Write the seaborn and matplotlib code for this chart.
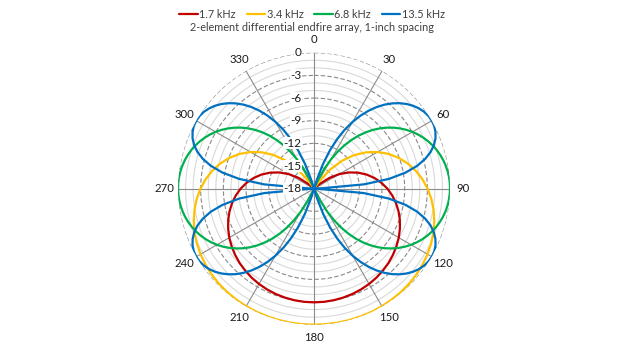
import numpy as np
import pandas as pd
import matplotlib
matplotlib.use("Agg")
import matplotlib.pyplot as plt
import seaborn as sns

# ---- data (dB; pattern is symmetric about 0-180) ----
angles_half = [a * 5.0 for a in range(37)]        # 0..180 step 5
angles_fine = [a * 2.5 for a in range(73)]        # 0..180 step 2.5
freq_labels = ["1.7 kHz", "3.4 kHz", "6.8 kHz", "13.5 kHz"]

db_1k7 = [-18, -18, -18, -18, -18, -18, -18, -18, -18, -18,
          -17.03, -15.50, -14.13, -12.90, -11.79, -10.78, -9.87, -9.04, -8.28,
          -7.60, -6.98, -6.42, -5.91, -5.46, -5.05, -4.69, -4.37, -4.08,
          -3.84, -3.62, -3.44, -3.29, -3.17, -3.08, -3.01, -2.97, -2.96]
db_3k4 = [-18, -18, -18, -18, -18, -18, -18,
          -16.92, -14.70, -12.78, -11.09, -9.60, -8.28, -7.11, -6.07, -5.14,
          -4.32, -3.60, -2.96, -2.41, -1.93, -1.52, -1.18, -0.89, -0.66,
          -0.47, -0.32, -0.21, -0.13, -0.08, -0.04, -0.02, -0.01, 0.0, 0.0, 0.0, 0.0]
db_6k8 = [-18, -18, -18, -18, -18, -18, -18, -18, -18, -18,
          -16.61, -15.00, -13.54, -12.21, -10.99, -9.87, -8.83, -7.88, -6.99,
          -6.18, -5.42, -4.73, -4.09, -3.50, -2.96, -2.47, -2.03, -1.63,
          -1.28, -0.97, -0.71, -0.49, -0.31, -0.17, -0.07, -0.01, 0.0,
          -0.03, -0.10, -0.21, -0.36, -0.55, -0.79, -1.07, -1.40, -1.77,
          -2.18, -2.65, -3.16, -3.72, -4.34, -5.01, -5.74, -6.53, -7.40,
          -8.33, -9.35, -10.46, -11.68, -13.02, -14.50, -16.15,
          -18, -18, -18, -18, -18, -18, -18, -18, -18, -18, -18]
db_13k5 = [-18, -18, -18, -18, -18, -18, -18,
           -16.78, -14.50, -12.51, -10.75, -9.18, -7.78, -6.52, -5.39, -4.37,
           -3.47, -2.68, -1.99, -1.40, -0.91, -0.52, -0.23, -0.06, 0.0,
           -0.06, -0.26, -0.60, -1.11, -1.82, -2.77, -4.02, -5.69, -7.97,
           -11.33, -17.24, -18, -17.35, -11.39, -8.01, -5.71, -4.04, -2.79,
           -1.83, -1.12, -0.61, -0.26, -0.06, 0.0, -0.06, -0.23, -0.51,
           -0.90, -1.39, -1.98, -2.66, -3.46, -4.35, -5.36, -6.49, -7.74,
           -9.14, -10.70, -12.45, -14.42, -16.68,
           -18, -18, -18, -18, -18, -18, -18]

line_colors = ["#C00000", "#FFC000", "#00B050", "#0070C0"]
r_ticks = [0, -3, -6, -9, -12, -15, -18]
theta_ticks = list(range(0, 360, 30))
title_text = "2-element differential endfire array, 1-inch spacing"

# ---- build long table ----
series = [(angles_half, db_1k7), (angles_half, db_3k4),
          (angles_fine, db_6k8), (angles_fine, db_13k5)]
rows = []
for lab, (ang, half) in zip(freq_labels, series):
    assert len(ang) == len(half), (lab, len(ang), len(half))
    full_deg = list(ang) + [360 - a for a in ang[-2::-1]]
    full_db = list(half) + list(half[-2::-1])
    for a, v in zip(full_deg, full_db):
        rows.append((np.deg2rad(a), v, lab))
df = pd.DataFrame(rows, columns=["theta", "dB", "freq"])

sns.set_style("white")
plt.rcParams["font.family"] = ["Lato", "DejaVu Sans"]

fig = plt.figure(figsize=(6.24, 3.51), dpi=100)
ax = fig.add_axes([0.2853, 0.0749, 0.4359, 0.7749], projection="polar")
ax.set_theta_zero_location("N")
ax.set_theta_direction(-1)

sns.lineplot(data=df, x="theta", y="dB", hue="freq", hue_order=freq_labels,
             palette=dict(zip(freq_labels, line_colors)), estimator=None,
             sort=False, lw=1.6, ax=ax, zorder=3)

ax.set_ylim(-18, 0)
ax.grid(False)
ax.spines["polar"].set_visible(False)

# grid: spokes and rings
th = np.linspace(0, 2 * np.pi, 721)
for r in range(-17, 1):
    if r % 3 == 0:
        ax.plot(th, np.full_like(th, r), color="#8a8a8a", lw=0.8,
                ls=(0, (4, 2)), zorder=1)
    else:
        ax.plot(th, np.full_like(th, r), color="#d9d9d9", lw=0.8, zorder=1)
for t in theta_ticks:
    ax.plot([np.deg2rad(t)] * 2, [-18, 0], color="#8c8c8c", lw=0.8, zorder=1)

ax.set_xticks(np.deg2rad(theta_ticks))
ax.set_xticklabels([str(t) for t in theta_ticks])
ax.tick_params(axis="x", pad=-1, labelsize=8.2, labelcolor="#1a1a1a")
ax.set_yticks([])
ax.set_xlabel("")
ax.set_ylabel("")

for r in r_ticks:
    ax.annotate(str(r), xy=(0, r), xytext=(-9, 0), textcoords="offset points",
                ha="right", va="center", fontsize=8.5, color="#1a1a1a",
                bbox=dict(fc="white", ec="none", pad=0.3), zorder=6)

handles, labels = ax.get_legend_handles_labels()
if ax.get_legend() is not None:
    ax.get_legend().remove()
leg = fig.legend(handles, labels, loc="center", bbox_to_anchor=(0.5, 0.958),
                 ncol=4, frameon=False, fontsize=7.8, handlelength=1.7,
                 handletextpad=0.15, columnspacing=1.0, borderaxespad=0)
for txt in leg.get_texts():
    txt.set_color("#404040")

fig.text(0.5, 0.922, title_text, ha="center", va="center", fontsize=7.8,
         color="#404040")

fig.savefig("out.png", dpi=100)
